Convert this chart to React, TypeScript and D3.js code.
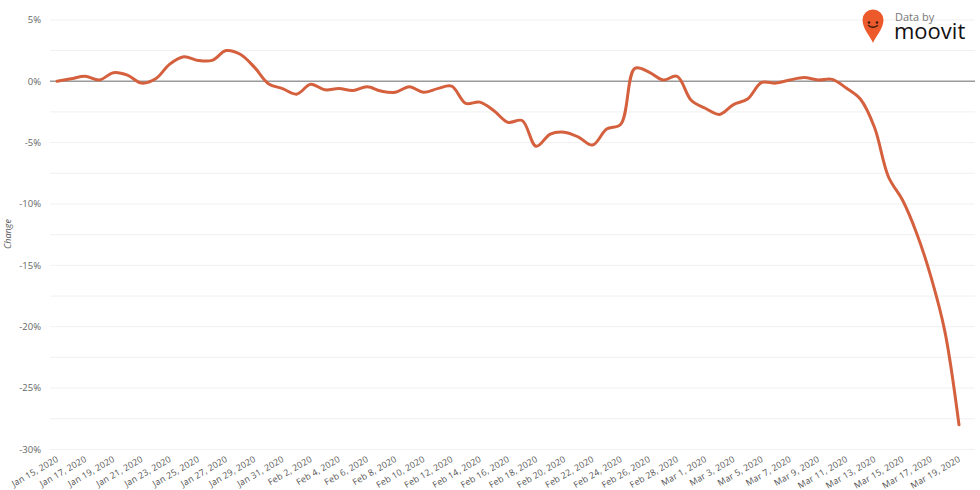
import React from "react";
import * as d3 from "d3";

const startDate = "2020-01-15";
const changeValues: number[] = [
  0.0, 0.2, 0.4, 0.1, 0.7, 0.5, -0.15, 0.2, 1.4, 2.0,
  1.7, 1.7, 2.5, 2.2, 1.15, -0.2, -0.6, -1.05, -0.25, -0.7,
  -0.6, -0.75, -0.45, -0.8, -0.9, -0.45, -0.9, -0.6, -0.4, -1.8,
  -1.7, -2.4, -3.35, -3.2, -5.3, -4.3, -4.15, -4.55, -5.2, -3.9,
  -3.5, 1.05, 0.75, 0.1, 0.4, -1.55, -2.2, -2.7, -1.9, -1.45,
  -0.1, -0.15, 0.1, 0.3, 0.1, 0.15, -0.55, -1.45, -3.75, -7.8,
  -9.7, -12.4, -15.9, -20.4, -28.0,
];
const yTickValues: number[] = [5, 0, -5, -10, -15, -20, -25, -30];
const gridValues: number[] = [5, 2.5, 0, -2.5, -5, -7.5, -10, -12.5, -15, -17.5, -20, -22.5, -25, -27.5, -30];
const yAxisTitle = "Change";

const W = 980;
const H = 490;

export default function App() {
  const parse = d3.timeParse("%Y-%m-%d");
  const start = parse(startDate) as Date;
  const data = changeValues.map((v, i) => ({ date: d3.timeDay.offset(start, i), value: v }));
  const end = data[data.length - 1].date;

  const x = d3.scaleTime().domain([start, end]).range([57, 959]);
  const y = d3.scaleLinear().domain([-30, 5]).range([449.4, 19.9]);

  const line = d3
    .line<{ date: Date; value: number }>()
    .x((d) => x(d.date))
    .y((d) => y(d.value))
    .curve(d3.curveCatmullRom.alpha(0.5));

  const fmt = d3.timeFormat("%b %-d, %Y");
  const xTicks = data.filter((_, i) => i % 2 === 0).map((d) => d.date);

  const font = "'Open Sans', 'DejaVu Sans', sans-serif";

  return (
    <svg
      width={W}
      height={H}
      style={{ position: "absolute", left: 0, top: 0, background: "#fff" }}
      fontFamily={font}
    >
      {gridValues.map((g) => (
        <line
          key={"g" + g}
          x1={50}
          x2={975}
          y1={y(g)}
          y2={y(g)}
          stroke={g === 0 ? "#9a9a9a" : "#f0f0f0"}
          strokeWidth={g === 0 ? 1.3 : 1}
        />
      ))}
      {yTickValues.map((t) => (
        <text
          key={"yt" + t}
          x={41}
          y={y(t)}
          dy="0.35em"
          textAnchor="end"
          fontSize={9.5}
          fill="#666"
        >
          {t + "%"}
        </text>
      ))}
      <text
        transform={`translate(8,${234}) rotate(-90)`}
        textAnchor="middle"
        fontSize={9}
        fontStyle="italic"
        fill="#555"
        dy="0.35em"
      >
        {yAxisTitle}
      </text>
      {xTicks.map((d, i) => (
        <text
          key={"xt" + i}
          transform={`translate(${x(d) + 2},${461}) rotate(-30)`}
          textAnchor="end"
          fontSize={8.8}
          letterSpacing={0.2}
          fill="#555"
        >
          {fmt(d)}
        </text>
      ))}
      <path d={line(data) || ""} fill="none" stroke="#d4603e" strokeWidth={3} strokeLinejoin="round" strokeLinecap="round" />

      {/* logo */}
      <g transform="translate(873,20)">
        <path
          d="M0,23 C-2,17 -10.5,9 -10.5,0 A10.5,10.5 0 1 1 10.5,0 C10.5,9 2,17 0,23 Z"
          fill="#ec5a2b"
        />
        <circle cx={-4} cy={2.5} r={1.3} fill="#3a1a10" />
        <circle cx={4} cy={2.5} r={1.3} fill="#3a1a10" />
        <path d="M-4.5,5.5 Q0,9 4.5,5.5" fill="none" stroke="#3a1a10" strokeWidth={1.3} strokeLinecap="round" />
      </g>
      <text x={895} y={21} fontSize={11} fill="#777" fontFamily={font}>
        Data by
      </text>
      <text x={894} y={39} fontSize={22} fill="#111" fontFamily={font}>
        moovit
      </text>
    </svg>
  );
}
